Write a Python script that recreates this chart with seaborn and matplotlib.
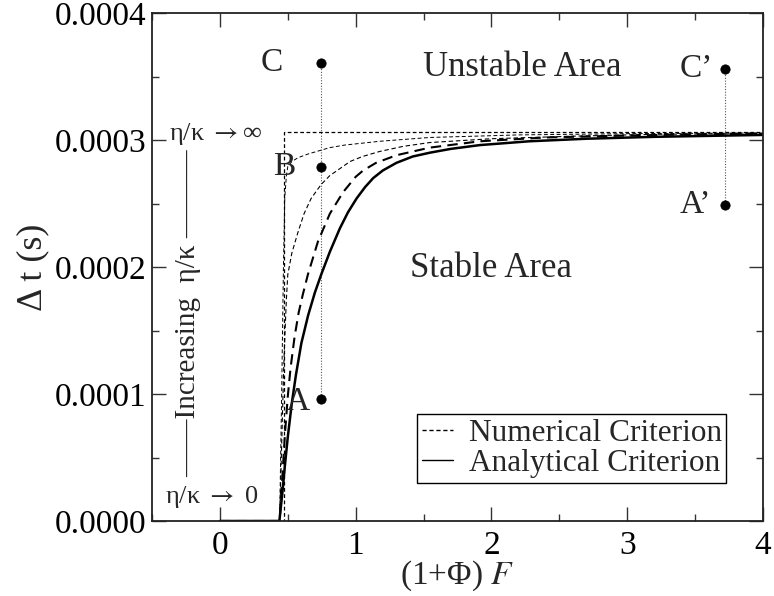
import numpy as np
import pandas as pd
import matplotlib
matplotlib.use("Agg")
import matplotlib.pyplot as plt
import seaborn as sns
from matplotlib.lines import Line2D

# ---------------- data ----------------
# step curve (eta/kappa -> infinity)
step_x = [0.0, 0.475, 0.475, 4.0]
step_y = [0.0, 0.0, 0.000306, 0.000306]

# thin dashed curve closest to the step
thin1_x = [0.0, 0.44, 0.455, 0.468, 0.478, 0.49, 0.50, 0.53, 0.574, 0.65, 0.746, 0.81, 0.918,
           1.178, 1.546, 2.2, 3.0, 4.0]
thin1_y = [0.0, 0.0, 0.000100, 0.000200, 0.000255, 0.000272, 0.000279, 0.000283, 0.000286,
           0.000289, 0.000292, 0.000294, 0.000296, 0.000299, 0.000302, 0.000304, 0.000305,
           0.0003055]

# second thin dashed curve
thin2_x = [0.0, 0.44, 0.45, 0.46, 0.47, 0.48, 0.49, 0.50, 0.53, 0.574, 0.62, 0.672, 0.746,
           0.81, 0.918, 0.957, 1.05, 1.178, 1.35, 1.546, 2.0, 2.6, 3.2, 4.0]
thin2_y = [0.0, 0.0, 0.000040, 0.000080, 0.000120, 0.000150, 0.000175, 0.000194, 0.000211,
           0.000227, 0.000242, 0.000254, 0.000265, 0.000272, 0.000280, 0.000283, 0.000287,
           0.000291, 0.000295, 0.000298, 0.000301, 0.000303, 0.0003045, 0.000305]

# numerical criterion (medium dashed)
num_x = [0.0, 0.44, 0.46, 0.48, 0.50, 0.52, 0.55, 0.58, 0.61, 0.648, 0.722, 0.81, 0.908,
         1.0, 1.055, 1.15, 1.30, 1.546, 1.915, 2.4, 3.0, 3.5, 4.0]
num_y = [0.0, 0.0, 0.000035, 0.000070, 0.000098, 0.000120, 0.000145, 0.000164, 0.000178,
         0.000194, 0.000220, 0.000242, 0.000259, 0.000271, 0.000276, 0.000282, 0.000288,
         0.000294, 0.000299, 0.000302, 0.0003035, 0.0003045, 0.000305]

# analytical criterion (solid)
ana_x = [0.0, 0.438, 0.46, 0.48, 0.50, 0.53, 0.56, 0.60, 0.65, 0.70, 0.746, 0.81, 0.884,
         0.943, 1.007, 1.07, 1.129, 1.2, 1.30, 1.42, 1.546, 1.7, 1.915, 2.28, 2.7, 3.2, 4.0]
ana_y = [0.0, 0.0, 0.000022, 0.000045, 0.000066, 0.000093, 0.000115, 0.000140, 0.000162,
         0.000180, 0.000194, 0.000212, 0.0002305, 0.000243, 0.000254, 0.000263, 0.000270,
         0.000276, 0.000282, 0.000287, 0.000290, 0.000293, 0.000296, 0.000299, 0.000301,
         0.0003025, 0.000304]

# marked points
pt_labels = ["C", "B", "A", "C\u2019", "A\u2019"]
pt_x = [0.742, 0.742, 0.742, 3.72, 3.72]
pt_y = [0.000361, 0.000279, 0.000096, 0.000356, 0.000249]

xticks = [0, 1, 2, 3, 4]
yticks = [0.0, 0.0001, 0.0002, 0.0003, 0.0004]
ytick_labels = ["0.0000", "0.0001", "0.0002", "0.0003", "0.0004"]

# ---------------- style ----------------
sns.set_style("ticks")
plt.rcParams["font.family"] = ["Liberation Serif", "DejaVu Serif"]
plt.rcParams["mathtext.fontset"] = "stix"
plt.rcParams["axes.linewidth"] = 1.3

fig = plt.figure(figsize=(7.74, 5.96), dpi=100)
ax = fig.add_axes([152 / 774, 75 / 596, 611 / 774, 508 / 596])

# guide lines (dotted verticals)
for xs, ys in [([pt_x[0], pt_x[2]], [pt_y[0], pt_y[2]]), ([pt_x[3], pt_x[4]], [pt_y[3], pt_y[4]])]:
    sns.lineplot(x=xs, y=ys, ax=ax, color="#555555", linestyle=(0, (1, 1.5)), linewidth=0.8,
                 estimator=None, sort=False)

sns.lineplot(x=step_x, y=step_y, ax=ax, color="k", linewidth=0.9, linestyle=(0, (3, 2)),
             estimator=None, sort=False)
sns.lineplot(x=thin1_x, y=thin1_y, ax=ax, color="k", linewidth=0.7, linestyle=(0, (4, 2.5)),
             estimator=None, sort=False)
sns.lineplot(x=thin2_x, y=thin2_y, ax=ax, color="k", linewidth=0.8, linestyle=(0, (4, 2.5)),
             estimator=None, sort=False)
sns.lineplot(x=num_x, y=num_y, ax=ax, color="k", linewidth=1.5, linestyle=(0, (5, 3)),
             estimator=None, sort=False)
sns.lineplot(x=ana_x, y=ana_y, ax=ax, color="k", linewidth=1.8, linestyle="-",
             estimator=None, sort=False)

sns.scatterplot(x=pt_x, y=pt_y, ax=ax, color="k", s=45, edgecolor="k", zorder=5, legend=False)

# point labels
lab_off = [(-0.28, 0.0), (-0.19, 0.0), (-0.08, -0.000002), (-0.09, 0.0), (-0.10, 0.0)]
for lab, x, y, (dx, dy) in zip(pt_labels, pt_x, pt_y, lab_off):
    ax.text(x + dx, y + dy, lab, ha="right", va="center", fontsize=24)

ax.text(2.23, 0.000357, "Unstable Area", ha="center", va="center", fontsize=25)
ax.text(2.0, 0.000199, "Stable Area", ha="center", va="center", fontsize=25)

# eta/kappa annotations
ax.text(-0.03, 0.000305, "\u03b7/\u03ba $\\rightarrow$\u221e", ha="center", va="center",
        fontsize=19)
ax.text(-0.06, 0.000019, "\u03b7/\u03ba $\\rightarrow$ 0", ha="center", va="center",
        fontsize=19)
ax.text(-0.235, 0.000164, "\u2014\u2014Increasing  \u03b7/\u03ba \u2014\u2014\u2014", rotation=90,
        ha="center", va="center", fontsize=21)

# axes
ax.set_xlim(-0.5, 4.0)
ax.set_ylim(0.0, 0.0004)
ax.set_xticks(xticks)
ax.set_xticklabels([str(t) for t in xticks])
ax.set_yticks(yticks)
ax.set_yticklabels(ytick_labels)
ax.set_xticks([-0.5, 0.5, 1.5, 2.5, 3.5], minor=True)
ax.set_yticks([0.00005, 0.00015, 0.00025, 0.00035], minor=True)
ax.tick_params(which="both", direction="in", top=True, right=True, width=1.0, colors="#333333",
               labelcolor="k")
ax.tick_params(which="major", length=10, labelsize=24)
ax.tick_params(which="minor", length=5)
ax.tick_params(axis="x", pad=7)
ax.tick_params(axis="y", pad=4)
for sp in ax.spines.values():
    sp.set_visible(True)
    sp.set_color("#222222")

ax.set_xlabel("(1+\u03a6) $\\mathit{F}$", fontsize=24, labelpad=-2)
ax.set_ylabel("\u0394 t (s)", fontsize=26, labelpad=4)

handles = [Line2D([], [], color="k", linewidth=1.0, linestyle=(0, (3, 2))),
           Line2D([], [], color="k", linewidth=1.0, linestyle="-")]
leg = ax.legend(handles, ["Numerical Criterion", "Analytical Criterion"], loc="lower right",
                bbox_to_anchor=(0.94, 0.075), borderaxespad=0, fontsize=22.5, frameon=True,
                fancybox=False, edgecolor="k", framealpha=1, handlelength=1.0,
                handletextpad=0.5, labelspacing=0.05, borderpad=0.15)
leg.get_frame().set_linewidth(1.0)

fig.savefig("out.png", dpi=100)
